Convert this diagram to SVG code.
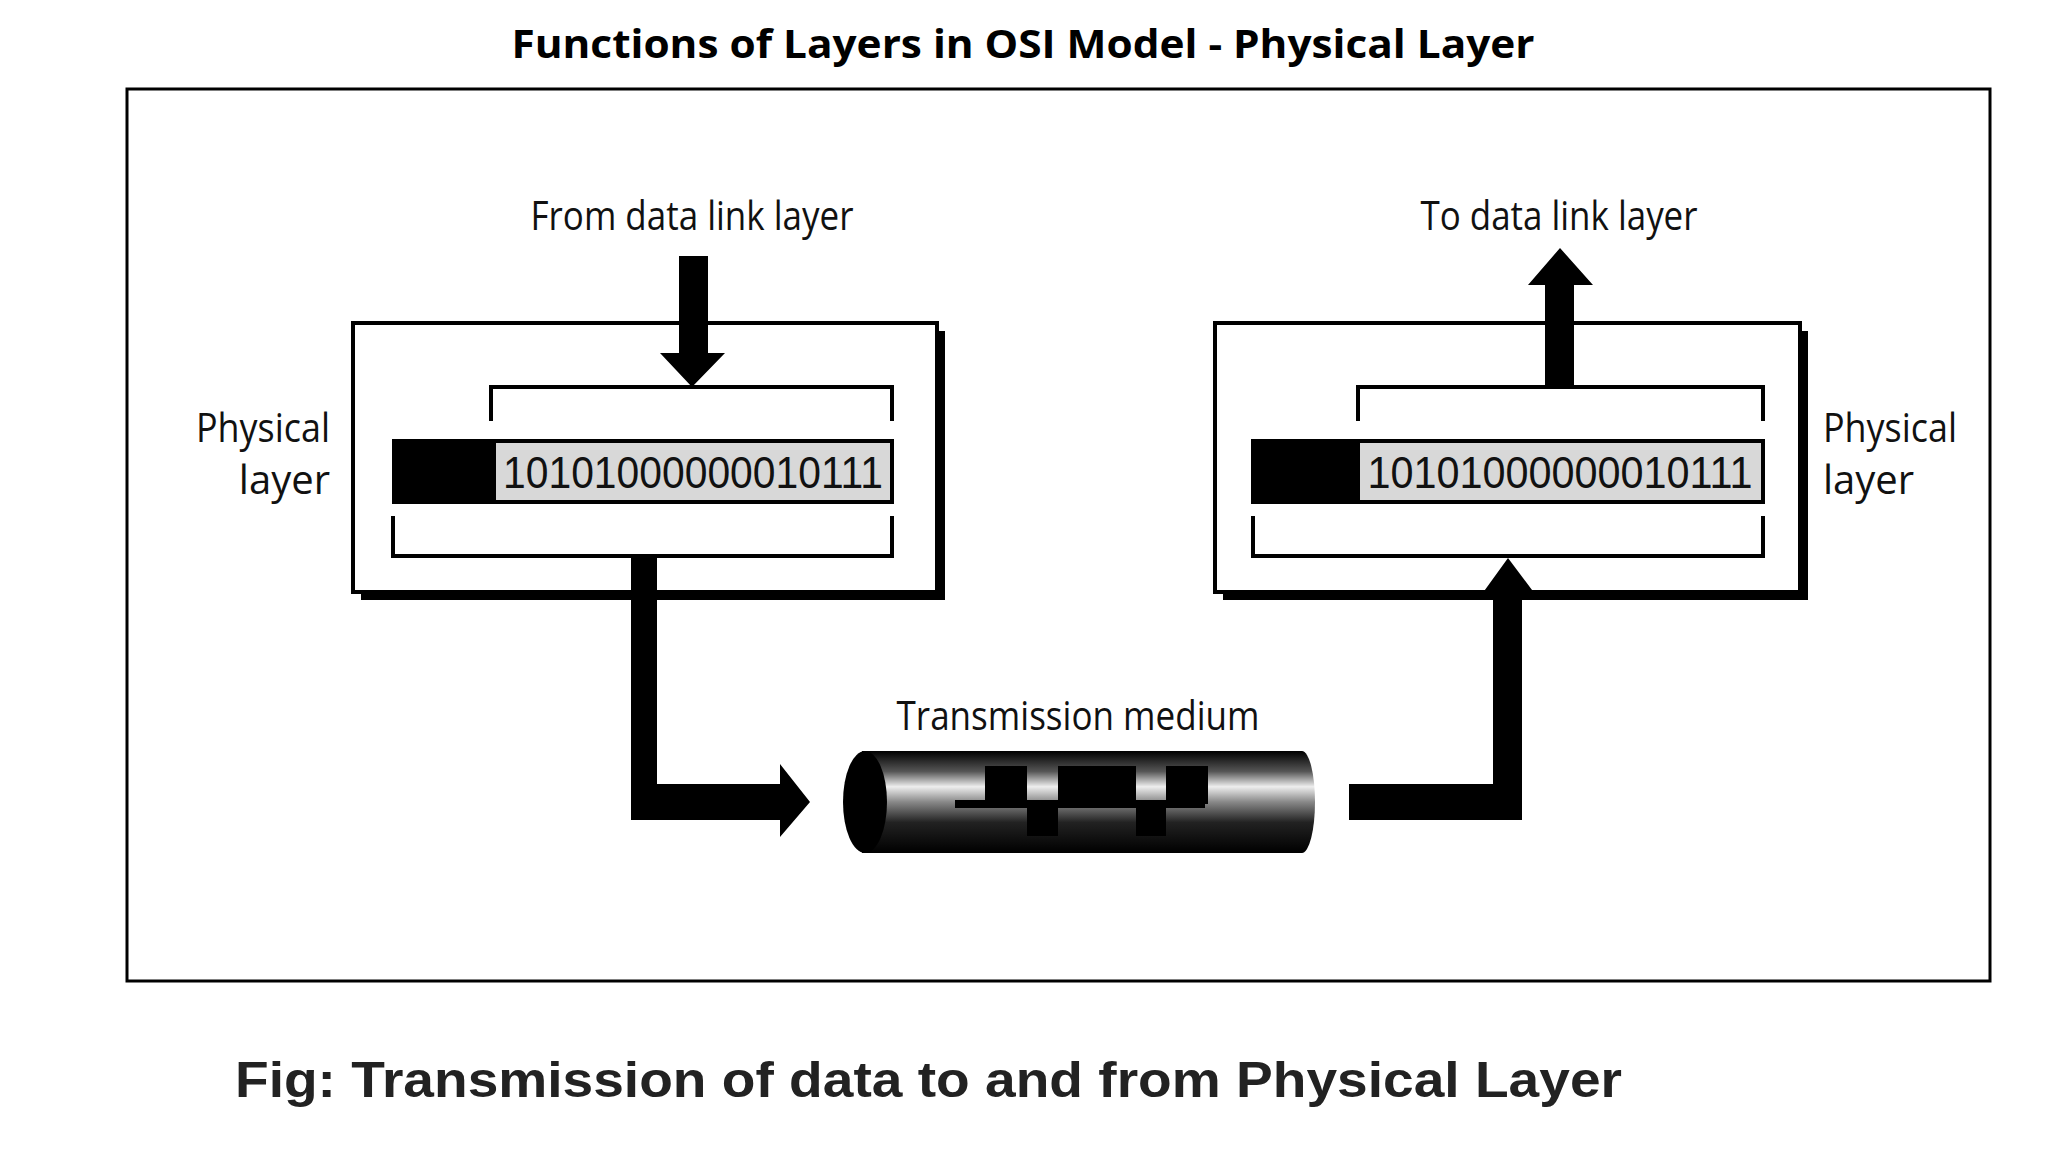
<svg xmlns="http://www.w3.org/2000/svg" width="2048" height="1152" viewBox="0 0 2048 1152">
<defs>
<style>
.lbl{font-family:"Open Sans","Liberation Sans",sans-serif;font-size:40px;fill:#111}
.bits{font-family:"Liberation Sans",sans-serif;font-size:44px;fill:#111}
.br{fill:none;stroke:#000;stroke-width:4}
.blk{fill:#000}
</style>
<linearGradient id="cyl" x1="0" y1="0" x2="0" y2="1">
<stop offset="0" stop-color="#000"/><stop offset="0.2" stop-color="#555"/><stop offset="0.35" stop-color="#eee"/><stop offset="0.5" stop-color="#888"/><stop offset="0.7" stop-color="#222"/><stop offset="1" stop-color="#000"/>
</linearGradient>
</defs>
<rect width="2048" height="1152" fill="#fff"/>
<text x="1023" y="58" text-anchor="middle" font-family="'Open Sans','Liberation Sans',sans-serif" font-weight="bold" font-size="40" textLength="1023" lengthAdjust="spacingAndGlyphs">Functions of Layers in OSI Model - Physical Layer</text>
<rect x="127" y="89" width="1863" height="892" fill="none" stroke="#000" stroke-width="3"/>
<g id="left-layer">
<rect x="361" y="331" width="584" height="269" class="blk"/>
<rect x="353" y="323" width="584" height="269" fill="#fff" stroke="#000" stroke-width="4"/>
<polyline class="br" points="491,421 491,387 892,387 892,421"/>
<rect x="392" y="439" width="102" height="65" class="blk"/>
<rect x="494" y="441" width="398" height="61" fill="#d8d8d8" stroke="#000" stroke-width="4"/>
<text x="693" y="488" text-anchor="middle" class="bits" textLength="380" lengthAdjust="spacingAndGlyphs">10101000000010111</text>
<polyline class="br" points="393,516 393,556 892,556 892,516"/>
<text x="330" y="442" text-anchor="end" class="lbl" textLength="134" lengthAdjust="spacingAndGlyphs">Physical</text>
<text x="330" y="494" text-anchor="end" class="lbl">layer</text>
</g>
<g id="right-layer">
<rect x="1223" y="331" width="585" height="269" class="blk"/>
<rect x="1215" y="323" width="585" height="269" fill="#fff" stroke="#000" stroke-width="4"/>
<polyline class="br" points="1358,421 1358,387 1763,387 1763,421"/>
<rect x="1251" y="439" width="107" height="65" class="blk"/>
<rect x="1358" y="441" width="405" height="61" fill="#d8d8d8" stroke="#000" stroke-width="4"/>
<text x="1560" y="488" text-anchor="middle" class="bits" textLength="385" lengthAdjust="spacingAndGlyphs">10101000000010111</text>
<polyline class="br" points="1253,516 1253,556 1763,556 1763,516"/>
<text x="1823" y="442" class="lbl" textLength="134" lengthAdjust="spacingAndGlyphs">Physical</text>
<text x="1823" y="494" class="lbl">layer</text>
</g>
<g id="from-dll">
<text x="692" y="230" text-anchor="middle" class="lbl" textLength="323" lengthAdjust="spacingAndGlyphs">From data link layer</text>
</g>
<g id="to-dll">
<text x="1559" y="230" text-anchor="middle" class="lbl" textLength="277" lengthAdjust="spacingAndGlyphs">To data link layer</text>
</g>
<g id="medium">
<text x="1078" y="730" text-anchor="middle" class="lbl" textLength="363" lengthAdjust="spacingAndGlyphs">Transmission medium</text>
<rect x="862" y="751" width="440" height="102" fill="url(#cyl)"/>
<ellipse cx="1302" cy="802" rx="13" ry="51" fill="url(#cyl)"/>
<ellipse cx="865" cy="802" rx="22" ry="51" fill="#000"/>
<g class="blk">
<rect x="985" y="766" width="42" height="38"/>
<rect x="1058" y="766" width="78" height="38"/>
<rect x="1166" y="766" width="42" height="38"/>
<rect x="955" y="800" width="250" height="8"/>
<rect x="1027" y="804" width="31" height="32"/>
<rect x="1136" y="804" width="30" height="32"/>
</g>
</g>
<g id="connectors" class="blk">
<polygon points="679,256 708,256 708,353 725,353 692,387 660,353 679,353"/>
<polygon points="1545,389 1574,389 1574,285 1593,285 1560,248 1528,285 1545,285"/>
<polygon points="631,558 657,558 657,784 780,784 780,764 810,802 780,837 780,820 631,820"/>
<polygon points="1349,784 1493,784 1493,594 1482,594 1508,558 1535,594 1522,594 1522,820 1349,820"/>
</g>
<text x="235" y="1097" font-family="'Liberation Sans',Arial,sans-serif" font-weight="bold" font-size="50" fill="#222" textLength="1387" lengthAdjust="spacingAndGlyphs">Fig: Transmission of data to and from Physical Layer</text>
</svg>
